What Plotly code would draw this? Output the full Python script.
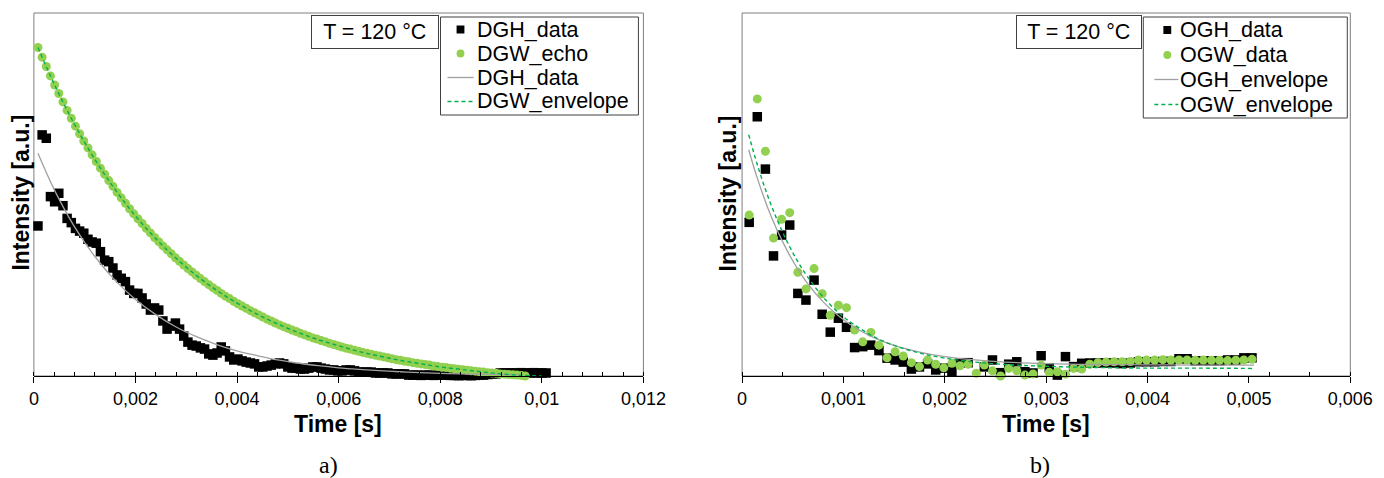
import plotly.graph_objects as go

# ---------------- panel a) : DGH / DGW at 120 °C ----------------
# acquisition times (microseconds)
dg_time_us = [
    80, 162, 244, 326, 408, 490, 572, 654, 736, 818,
    900, 982, 1064, 1146, 1228, 1310, 1392, 1474, 1556, 1638,
    1720, 1802, 1884, 1966, 2048, 2130, 2212, 2294, 2376, 2458,
    2540, 2622, 2704, 2786, 2868, 2950, 3032, 3114, 3196, 3278,
    3360, 3442, 3524, 3606, 3688, 3770, 3852, 3934, 4016, 4098,
    4180, 4262, 4344, 4426, 4508, 4590, 4672, 4754, 4836, 4918,
    5000, 5082, 5164, 5246, 5328, 5410, 5492, 5574, 5656, 5738,
    5820, 5902, 5984, 6066, 6148, 6230, 6312, 6394, 6476, 6558,
    6640, 6722, 6804, 6886, 6968, 7050, 7132, 7214, 7296, 7378,
    7460, 7542, 7624, 7706, 7788, 7870, 7952, 8034, 8116, 8198,
    8280, 8362, 8444, 8526, 8608, 8690, 8772, 8854, 8936, 9018,
    9100, 9182, 9264, 9346, 9428, 9510, 9592, 9674, 9756, 9838,
    9920, 10002, 10084,
]

dgh_data = [
    0.496, 0.797, 0.786, 0.593, 0.576, 0.604, 0.563, 0.521, 0.507, 0.488,
    0.479, 0.472, 0.452, 0.443, 0.439, 0.411, 0.383, 0.378, 0.357, 0.334,
    0.323, 0.312, 0.284, 0.273, 0.273, 0.258, 0.238, 0.218, 0.225, 0.218,
    0.182, 0.155, 0.165, 0.175, 0.155, 0.132, 0.112, 0.102, 0.099, 0.093,
    0.089, 0.073, 0.069, 0.076, 0.096, 0.083, 0.063, 0.053, 0.056, 0.050,
    0.046, 0.043, 0.040, 0.030, 0.030, 0.033, 0.036, 0.040, 0.043, 0.040,
    0.030, 0.026, 0.026, 0.023, 0.023, 0.026, 0.030, 0.030, 0.026, 0.023,
    0.020, 0.020, 0.017, 0.017, 0.020, 0.020, 0.017, 0.013, 0.013, 0.013,
    0.013, 0.010, 0.010, 0.010, 0.010, 0.007, 0.007, 0.007, 0.007, 0.003,
    0.003, 0.003, 0.002, 0.003, 0.003, 0.002, 0.003, 0.003, 0.003, 0.002,
    0.002, 0.001, 0.002, 0.002, 0.001, 0.002, 0.003, 0.003, 0.005, 0.007,
    0.007, 0.010, 0.010, 0.010, 0.010, 0.010, 0.011, 0.010, 0.010, 0.011,
    0.010, 0.010, 0.010,
]

dgw_echo = [
    1.086, 1.054, 1.023, 0.992, 0.962, 0.934, 0.906, 0.878, 0.852, 0.826,
    0.801, 0.777, 0.754, 0.731, 0.709, 0.687, 0.667, 0.646, 0.627, 0.607,
    0.589, 0.571, 0.553, 0.536, 0.520, 0.504, 0.488, 0.473, 0.458, 0.444,
    0.430, 0.417, 0.404, 0.391, 0.379, 0.367, 0.355, 0.344, 0.333, 0.322,
    0.312, 0.302, 0.292, 0.283, 0.273, 0.264, 0.256, 0.247, 0.239, 0.231,
    0.224, 0.216, 0.209, 0.202, 0.195, 0.188, 0.182, 0.175, 0.169, 0.163,
    0.158, 0.152, 0.147, 0.141, 0.136, 0.131, 0.126, 0.122, 0.117, 0.113,
    0.108, 0.104, 0.100, 0.096, 0.092, 0.089, 0.085, 0.082, 0.078, 0.075,
    0.072, 0.069, 0.066, 0.063, 0.060, 0.057, 0.054, 0.052, 0.049, 0.047,
    0.044, 0.042, 0.040, 0.038, 0.036, 0.033, 0.031, 0.029, 0.028, 0.026,
    0.024, 0.022, 0.021, 0.019, 0.017, 0.016, 0.014, 0.013, 0.011, 0.010,
    0.009, 0.007, 0.006, 0.005, 0.004, 0.003, 0.002, 0.000,
]

# fitted envelopes (microseconds / intensity)
dgh_fit_time_us = [80, 400, 800, 1200, 1600, 2000, 2400, 2800, 3200, 3600,
                   4000, 4400, 4800, 5200, 5600, 6000, 6400, 6800, 7200, 7600,
                   8000, 8400, 8800, 9200, 9600]
dgh_fit = [0.736, 0.616, 0.493, 0.395, 0.316, 0.253, 0.203, 0.162, 0.130, 0.104,
           0.083, 0.067, 0.053, 0.043, 0.034, 0.027, 0.022, 0.018, 0.014, 0.011,
           0.009, 0.007, 0.006, 0.005, 0.004]

dgw_env_time_us = [80, 400, 800, 1200, 1600, 2000, 2400, 2800, 3200, 3600,
                   4000, 4400, 4800, 5200, 5600, 6000, 6400, 6800, 7200, 7600,
                   8000, 8400, 8800, 9200, 9600, 10000]
dgw_envelope = [1.086, 0.965, 0.832, 0.716, 0.616, 0.529, 0.454, 0.389, 0.332, 0.283,
                0.241, 0.204, 0.172, 0.144, 0.120, 0.100, 0.081, 0.066, 0.052, 0.041,
                0.030, 0.022, 0.014, 0.007, 0.002, 0.000]

# ---------------- panel b) : OGH / OGW at 120 °C ----------------
og_time_us = [
    70, 150, 230, 310, 390, 470, 550, 630, 710, 790,
    870, 950, 1030, 1110, 1190, 1270, 1350, 1430, 1510, 1590,
    1670, 1750, 1830, 1910, 1990, 2070, 2150, 2230, 2310, 2390,
    2470, 2550, 2630, 2710, 2790, 2870, 2950, 3030, 3110, 3190,
    3270, 3350, 3430, 3510, 3590, 3670, 3750, 3830, 3910, 3990,
    4070, 4150, 4230, 4310, 4390, 4470, 4550, 4630, 4710, 4790,
    4870, 4950, 5030,
]

ogh_data = [
    0.508, 0.857, 0.684, 0.397, 0.466, 0.499, 0.273, 0.251, 0.317, 0.204,
    0.145, 0.191, 0.161, 0.094, 0.097, 0.102, 0.084, 0.059, 0.053, 0.046,
    0.023, 0.030, 0.040, 0.020, 0.026, 0.014, 0.044, 0.044, -0.003, 0.030,
    0.053, 0.011, 0.039, 0.047, 0.014, 0.010, 0.067, 0.027, 0.003, 0.064,
    0.031, 0.042, 0.043, 0.043, 0.043, 0.043, 0.041, 0.043, 0.047, 0.047,
    0.047, 0.048, 0.048, 0.057, 0.057, 0.050, 0.050, 0.050, 0.050, 0.053,
    0.053, 0.060, 0.060,
]

ogw_data = [
    0.532, 0.916, 0.743, 0.456, 0.518, 0.540, 0.343, 0.288, 0.355, 0.272,
    0.201, 0.234, 0.226, 0.152, 0.113, 0.144, 0.102, 0.060, 0.080, 0.066,
    0.044, 0.031, 0.053, 0.039, 0.027, 0.042, 0.034, 0.039, 0.009, 0.036,
    0.017, 0.000, 0.025, 0.017, 0.003, 0.007, 0.036, 0.012, 0.014, 0.006,
    0.025, 0.023, 0.039, 0.044, 0.046, 0.047, 0.047, 0.048, 0.053, 0.053,
    0.053, 0.054, 0.053, 0.053, 0.053, 0.052, 0.053, 0.052, 0.052, 0.051,
    0.052, 0.053, 0.055,
]

og_env_time_us = [65, 150, 250, 350, 450, 550, 650, 800, 950, 1100,
                  1300, 1500, 1750, 2000, 2300, 2600, 3000, 3500, 4000, 4500, 5050]
ogh_envelope = [0.748, 0.654, 0.559, 0.479, 0.411, 0.353, 0.304, 0.245, 0.199, 0.163,
                0.127, 0.101, 0.079, 0.064, 0.053, 0.046, 0.041, 0.038, 0.037, 0.036, 0.036]
ogw_envelope = [0.798, 0.699, 0.598, 0.513, 0.440, 0.378, 0.326, 0.261, 0.210, 0.171,
                0.130, 0.101, 0.076, 0.059, 0.046, 0.038, 0.032, 0.028, 0.026, 0.026, 0.025]

# axis tick labels (comma decimal separator)
ticks_a = [0, 0.002, 0.004, 0.006, 0.008, 0.010, 0.012]
ticklabels_a = ["0", "0,002", "0,004", "0,006", "0,008", "0,01", "0,012"]
ticks_b = [0, 0.001, 0.002, 0.003, 0.004, 0.005, 0.006]
ticklabels_b = ["0", "0,001", "0,002", "0,003", "0,004", "0,005", "0,006"]

names_a = ["DGH_data", "DGW_echo", "DGH_data", "DGW_envelope"]
names_b = ["OGH_data", "OGW_data", "OGH_envelope", "OGW_envelope"]
temperature_label = "T = 120 °C"


def seconds(us):
    return [v * 1e-6 for v in us]


BLACK = "#000000"
LIGHT_GREEN = "#92D050"
DARK_GREEN = "#00B050"
GREY = "#A0A0A0"
FRAME = "#7F7F7F"
BOX = "#404040"
SANS = "Liberation Sans, Arial, sans-serif"
NARROW = "Liberation Sans Narrow, Arial Narrow, Liberation Sans, sans-serif"
SERIF = "Liberation Serif, Times New Roman, serif"
DASH = "4px,3px"
LABEL_SIZE = 21.5

W, H = 1384, 478


def px(x):
    return x / W


def py(y):
    return 1 - y / H


fig = go.Figure()


def add_panel(xa, ya, t_sq, sq, t_ci, ci, t_l1, l1, t_l2, l2, names):
    fig.add_trace(go.Scatter(
        x=seconds(t_sq), y=sq, mode="markers", name=names[0],
        marker=dict(symbol="square", size=9.5, color=BLACK, line=dict(width=0)),
        xaxis=xa, yaxis=ya, cliponaxis=False))
    fig.add_trace(go.Scatter(
        x=seconds(t_ci), y=ci, mode="markers", name=names[1],
        marker=dict(symbol="circle", size=9, color=LIGHT_GREEN, line=dict(width=0)),
        xaxis=xa, yaxis=ya, cliponaxis=False))
    fig.add_trace(go.Scatter(
        x=seconds(t_l1), y=l1, mode="lines", name=names[2],
        line=dict(color=GREY, width=1.3, shape="spline"),
        xaxis=xa, yaxis=ya))
    fig.add_trace(go.Scatter(
        x=seconds(t_l2), y=l2, mode="lines", name=names[3],
        line=dict(color=DARK_GREEN, width=1.4, dash=DASH, shape="spline"),
        xaxis=xa, yaxis=ya))


add_panel("x", "y",
          dg_time_us, dgh_data, dg_time_us[:len(dgw_echo)], dgw_echo,
          dgh_fit_time_us, dgh_fit, dgw_env_time_us, dgw_envelope, names_a)
add_panel("x2", "y2",
          og_time_us, ogh_data, og_time_us, ogw_data,
          og_env_time_us, ogh_envelope, og_env_time_us, ogw_envelope, names_b)

# plot-area geometry (page pixels)
PLOT_TOP, PLOT_BOTTOM = 13, 376
y_dom = [py(PLOT_BOTTOM), py(PLOT_TOP)]
xa_dom = [px(29.5), px(651.6)]
xb_dom = [px(752.3), px(1373.1)]


def xaxis_style(dom, rng, tv, tt, anchor):
    return dict(
        domain=dom, range=rng, anchor=anchor,
        tickmode="array", tickvals=tv, ticktext=tt,
        ticks="outside", ticklen=6, tickwidth=1, tickcolor=BLACK,
        minor=dict(ticks="inside", ticklen=4, tickwidth=1, tickcolor=BLACK,
                   tickmode="linear", tick0=0, dtick=0.0004, showgrid=False),
        showline=True, linecolor=BLACK, linewidth=1,
        showgrid=False, zeroline=False,
        tickfont=dict(family=NARROW, size=18, color=BLACK),
    )


def cross_tick_style(rng, tv, overlay, anchor):
    # inner half of the major ticks, so that they cross the axis line
    return dict(
        overlaying=overlay, anchor=anchor, range=rng,
        tickmode="array", tickvals=tv, showticklabels=False,
        ticks="inside", ticklen=4, tickwidth=1, tickcolor=BLACK,
        showline=False, showgrid=False, zeroline=False,
    )


def yaxis_style(anchor):
    return dict(domain=y_dom, range=[0, 1.2], anchor=anchor,
                showticklabels=False, ticks="", showgrid=False,
                zeroline=False, showline=False)


annotations = []
shapes = [
    dict(type="rect", xref="x domain", yref="y domain", x0=0, x1=1, y0=0, y1=1,
         line=dict(color=FRAME, width=1), layer="below"),
    dict(type="rect", xref="x2 domain", yref="y2 domain", x0=0, x1=1, y0=0, y1=1,
         line=dict(color=FRAME, width=1), layer="below"),
]

# temperature boxes
for x0, x1 in [(313.9, 441.4), (1033.3, 1158.8)]:
    annotations.append(dict(
        xref="paper", yref="paper", x=px((x0 + x1) / 2), y=py(32),
        text=temperature_label, showarrow=False, xanchor="center", yanchor="middle",
        font=dict(family=SANS, size=LABEL_SIZE, color=BLACK),
        width=x1 - x0 - 8, height=26, borderpad=3,
        bordercolor=BOX, borderwidth=1, bgcolor="white"))


# legend: framed box with one row per series (square, circle, solid line, dashed line)
def add_legend(names, x0, x1, y0, y1, rows, sym_x, line_x0, line_x1, text_x):
    shapes.append(dict(type="rect", xref="paper", yref="paper",
                       x0=px(x0), x1=px(x1), y0=py(y1), y1=py(y0),
                       line=dict(color=BOX, width=1), fillcolor="white", layer="above"))
    r = 4
    shapes.append(dict(type="rect", xref="paper", yref="paper",
                       x0=px(sym_x - r), x1=px(sym_x + r),
                       y0=py(rows[0] + r), y1=py(rows[0] - r),
                       line=dict(width=0), fillcolor=BLACK, layer="above"))
    shapes.append(dict(type="circle", xref="paper", yref="paper",
                       x0=px(sym_x - r), x1=px(sym_x + r),
                       y0=py(rows[1] + r), y1=py(rows[1] - r),
                       line=dict(width=0), fillcolor=LIGHT_GREEN, layer="above"))
    shapes.append(dict(type="line", xref="paper", yref="paper",
                       x0=px(line_x0), x1=px(line_x1), y0=py(rows[2]), y1=py(rows[2]),
                       line=dict(color=GREY, width=1.3), layer="above"))
    shapes.append(dict(type="line", xref="paper", yref="paper",
                       x0=px(line_x0), x1=px(line_x1), y0=py(rows[3]), y1=py(rows[3]),
                       line=dict(color=DARK_GREEN, width=1.4, dash=DASH), layer="above"))
    for name, ry in zip(names, rows):
        annotations.append(dict(
            xref="paper", yref="paper", x=px(text_x), y=py(ry),
            text=name, showarrow=False, xanchor="left", yanchor="middle",
            font=dict(family=SANS, size=LABEL_SIZE, color=BLACK)))


add_legend(names_a, 444.5, 646.5, 17, 115, [29.5, 53.5, 77.5, 101.5],
           464.9, 451.6, 478.2, 479.5)
add_legend(names_b, 1161.8, 1370, 17, 118, [30, 55, 79.5, 104.5],
           1186.3, 1173.1, 1197.6, 1197.5)

for xc in [339.4, 1062.9]:
    annotations.append(dict(
        xref="paper", yref="paper", x=px(xc), y=py(424),
        text="<b>Time [s]</b>", showarrow=False, xanchor="center", yanchor="middle",
        font=dict(family=NARROW, size=23, color=BLACK)))
for xc in [15.9, 738.4]:
    annotations.append(dict(
        xref="paper", yref="paper", x=px(xc), y=py(193),
        text="<b>Intensity [a.u.]</b>", textangle=-90, showarrow=False,
        xanchor="center", yanchor="middle",
        font=dict(family=SANS, size=23, color=BLACK)))
for xc, lab in [(330.2, "a)"), (1056.7, "b)")]:
    annotations.append(dict(
        xref="paper", yref="paper", x=px(xc), y=py(465),
        text=lab, showarrow=False, xanchor="center", yanchor="middle",
        font=dict(family=SERIF, size=24, color=BLACK)))

fig.update_layout(
    width=W, height=H, margin=dict(l=0, r=0, t=0, b=0),
    paper_bgcolor="white", plot_bgcolor="white",
    showlegend=False,
    xaxis=xaxis_style(xa_dom, [0, 0.012], ticks_a, ticklabels_a, "y"),
    yaxis=yaxis_style("x"),
    xaxis2=xaxis_style(xb_dom, [0, 0.006], ticks_b, ticklabels_b, "y2"),
    yaxis2=yaxis_style("x2"),
    xaxis3=cross_tick_style([0, 0.012], ticks_a, "x", "y"),
    xaxis4=cross_tick_style([0, 0.006], ticks_b, "x2", "y2"),
    annotations=annotations,
    shapes=shapes,
)

fig.write_html("out.html")
